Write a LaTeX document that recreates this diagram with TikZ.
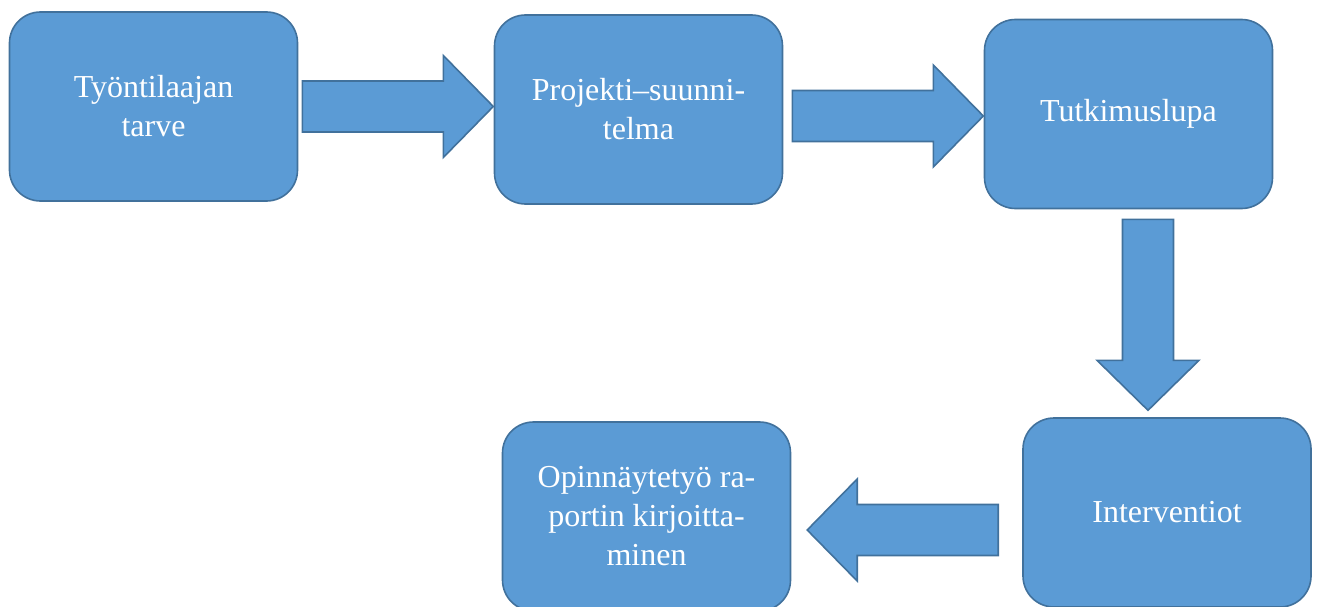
\documentclass[tikz,border=0pt]{standalone}
\usepackage{fontspec}
\setmainfont{Liberation Serif}
\usetikzlibrary{positioning}
\definecolor{boxfill}{HTML}{5B9BD5}
\definecolor{boxline}{HTML}{41719C}

\begin{document}
\begin{tikzpicture}[x=1pt,y=-1pt,
    stage/.style={
        draw=boxline,
        fill=boxfill,
        line width=1.6pt,
        rounded corners=31pt,
        minimum width=288pt,
        minimum height=189pt,
        inner sep=0pt,
        text=white,
        align=center,
        font=\fontsize{32}{39}\selectfont
        },
    arrowbody/.style={
        draw=boxline,
        fill=boxfill,
        line width=1.6pt,
        line join=miter
        },
    blockarrow/.pic={
        \path[arrowbody] (0,-25.5) -- (141,-25.5) -- (141,-51) -- (191,0)
          -- (141,51) -- (141,25.5) -- (0,25.5) -- cycle;
        },
  ]
  \useasboundingbox (0,0) rectangle (1317,607);
  % Stages
  \node[stage] (tarve)  at (153.5,106.5) {Työntilaajan\\tarve};
  \node[stage] (suunn)  at (638.5,109.5) {Projekti–suunni-\\telma};
  \node[stage] (lupa)   at (1128.5,114)  {Tutkimuslupa};
  \node[stage] (interv) at (1167,512.5)  {Interventiot};
  \node[stage] (raport) at (646.5,516.5) {Opinnäytetyö ra-\\portin kirjoitta-\\minen};
  % Block arrows
  \pic (a1) at ([xshift=4pt]tarve.east) {blockarrow};
  \pic (a2) at ([xshift=9pt,yshift=-6.5pt]suunn.east) {blockarrow};
  \pic[rotate=-90] (a3) at ([xshift=19.5pt,yshift=-10pt]lupa.south) {blockarrow};
  \pic[rotate=180] (a4) at ([xshift=-24pt,yshift=-17.5pt]interv.west) {blockarrow};
\end{tikzpicture}
\end{document}
